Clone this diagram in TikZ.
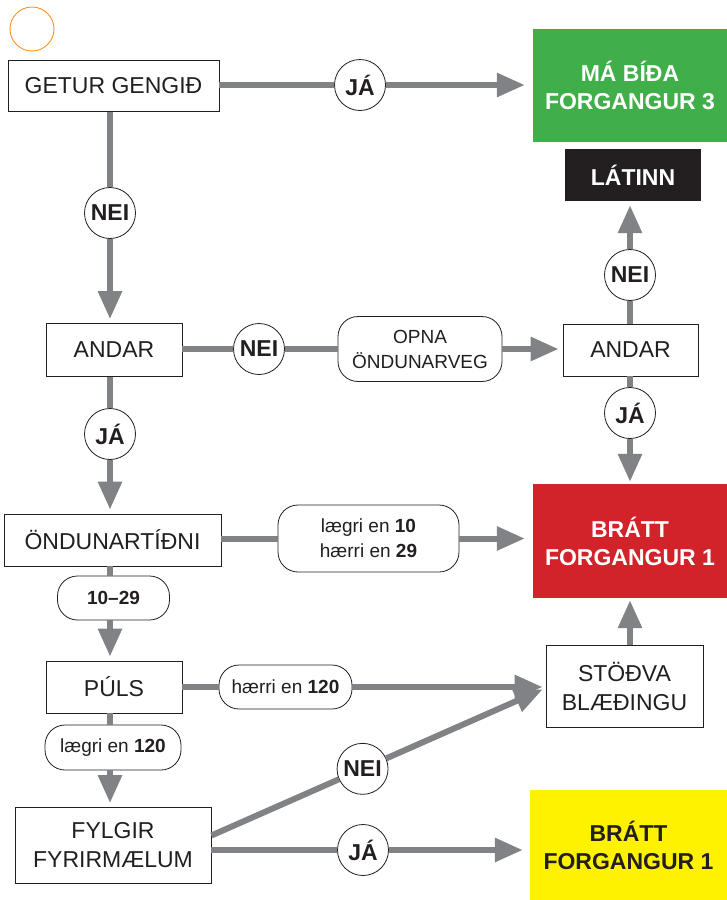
\documentclass[tikz,border=0pt]{standalone}
\usepackage{fontspec}
\setmainfont{Liberation Sans}
\usetikzlibrary{arrows.meta,calc}
\definecolor{ink}{HTML}{231F20}
\definecolor{arrowgray}{HTML}{808285}
\definecolor{okgreen}{HTML}{40AE49}
\definecolor{alarmred}{HTML}{D2232A}
\definecolor{warnyellow}{HTML}{FFF200}
\definecolor{logoorange}{HTML}{F7941D}
\tikzset{
  plainbox/.style={draw=ink, line width=0.9pt, fill=white, inner sep=0pt, align=center,
    text=ink, font=\fontsize{23}{29}\selectfont},
  colorbox/.style={inner sep=0pt, align=center, font=\bfseries\fontsize{23}{28}\selectfont},
  pill/.style={draw=ink, line width=0.8pt, fill=white, rounded corners=20pt, inner sep=0pt,
    align=center, text=ink, font=\fontsize{19}{25}\selectfont},
  answer/.style={circle, draw=ink, line width=0.8pt, fill=white, inner sep=0pt,
    minimum size=51pt, text=ink, font=\bfseries\fontsize{23}{23}\selectfont},
  conn/.style={draw=arrowgray, line width=6pt},
  arr/.style={conn, -{Triangle[length=28pt,width=23pt]}, shorten >=4pt},
}
\begin{document}
\begin{tikzpicture}[x=1pt,y=-1pt]
\useasboundingbox (0,0) rectangle (727,900);
\coordinate (vx) at (110,0);
% logo circle
\node[circle, draw=logoorange, line width=0.9pt, minimum size=44pt, inner sep=0pt] (logo) at (32,29) {};
% left column
\node[plainbox, minimum width=211pt, minimum height=51pt] (getur) at (113.5,86) {GETUR GENGIÐ};
\node[plainbox, minimum width=136pt, minimum height=53pt] (andarL) at (114,350) {ANDAR};
\node[plainbox, minimum width=217pt, minimum height=52pt] (ond) at (112.5,540) {ÖNDUNARTÍÐNI};
\node[pill, minimum width=112pt, minimum height=44pt, font=\bfseries\fontsize{19}{25}\selectfont] (r1029) at (113.5,598) {10–29};
\node[plainbox, minimum width=136pt, minimum height=52pt] (puls) at (114,687) {PÚLS};
\node[pill, minimum width=136pt, minimum height=45pt] (l120) at (113,747.5) {lægri en \textbf{120}};
\node[plainbox, minimum width=196pt, minimum height=76pt] (fylgir) at (113,845.5) {FYLGIR\\FYRIRMÆLUM};
% middle
\node[pill, minimum width=164pt, minimum height=65pt] (opna) at (420,349) {OPNA\\ÖNDUNARVEG};
\node[pill, minimum width=181pt, minimum height=67pt] (lg) at (368.5,538.5) {lægri en \textbf{10}\\hærri en \textbf{29}};
\node[pill, minimum width=133pt, minimum height=44pt] (h120) at (285.5,687) {hærri en \textbf{120}};
% right column
\node[colorbox, fill=okgreen, text=white, minimum width=194pt, minimum height=113pt] (green) at (630,85.5) {MÁ BÍÐA\\FORGANGUR 3};
\node[colorbox, fill=ink, text=white, minimum width=136pt, minimum height=52pt] (latinn) at (633,175) {LÁTINN};
\node[plainbox, minimum width=135pt, minimum height=52pt] (andarR) at (630.5,350) {ANDAR};
\node[colorbox, fill=alarmred, text=white, minimum width=194pt, minimum height=114pt] (red) at (630,541) {BRÁTT\\FORGANGUR 1};
\node[plainbox, minimum width=157pt, minimum height=82pt] (stodva) at (624.5,686) {STÖÐVA\\BLÆÐINGU};
\node[colorbox, fill=warnyellow, text=ink, minimum width=197pt, minimum height=110pt] (yellow) at (628.5,845) {BRÁTT\\FORGANGUR 1};
% answer circles
\node[answer] (ja1) at (360,85) {JÁ};
\node[answer] (nei1) at (110,213) {NEI};
\node[answer] (nei2) at (259,349) {NEI};
\node[answer] (ja2) at (110,434) {JÁ};
\node[answer] (nei4) at (630,275) {NEI};
\node[answer] (ja3) at (630,413) {JÁ};
\node[answer] (ja4) at (363,850) {JÁ};
\coordinate (d1) at ($(fylgir.east)+(0,-10)$);
\coordinate (d2) at ($(stodva.west)+(-2,3)$);
\node[answer] (nei5) at ($(d1)!0.455!(d2)$) {NEI};
% connectors
\draw[conn] (getur.east |- ja1) -- (ja1);
\draw[arr, shorten >=8pt] (ja1) -- (ja1 -| green.west);
\draw[conn] (getur.south -| vx) -- (nei1);
\draw[arr] (nei1) -- (andarL.north -| vx);
\draw[conn] (andarL.east |- nei2) -- (nei2);
\draw[conn] (nei2) -- (opna.west |- nei2);
\draw[arr] (opna.east |- nei2) -- (andarR.west |- nei2);
\draw[conn] (andarR.north -| nei4) -- (nei4);
\draw[arr] (nei4) -- (latinn.south -| nei4);
\draw[conn] (andarR.south -| ja3) -- (ja3);
\draw[arr, shorten >=2pt] (ja3) -- (red.north -| ja3);
\draw[conn] (andarL.south -| vx) -- (ja2);
\draw[arr] (ja2) -- (ond.north -| vx);
\draw[conn] (ond.east |- lg) -- (lg.west);
\draw[arr, shorten >=8pt] (lg.east) -- (red.west |- lg);
\draw[conn] (ond.south -| vx) -- (r1029.north -| vx);
\draw[arr] (r1029.south -| vx) -- (puls.north -| vx);
\draw[conn] (puls.east |- h120) -- (h120.west);
\draw[arr, shorten >=3pt] (h120.east) -- (stodva.west |- h120);
\draw[arr, shorten >=2pt] (stodva.north -| ja3) -- (red.south -| ja3);
\draw[conn] (puls.south -| vx) -- (l120.north -| vx);
\draw[arr] (l120.south -| vx) -- (fylgir.north -| vx);
\draw[conn] (d1) -- (nei5);
\draw[arr, shorten >=1pt] (nei5) -- (d2);
\draw[conn] (fylgir.east |- ja4) -- (ja4);
\draw[arr, shorten >=7pt] (ja4) -- (yellow.west |- ja4);
\end{tikzpicture}
\end{document}
